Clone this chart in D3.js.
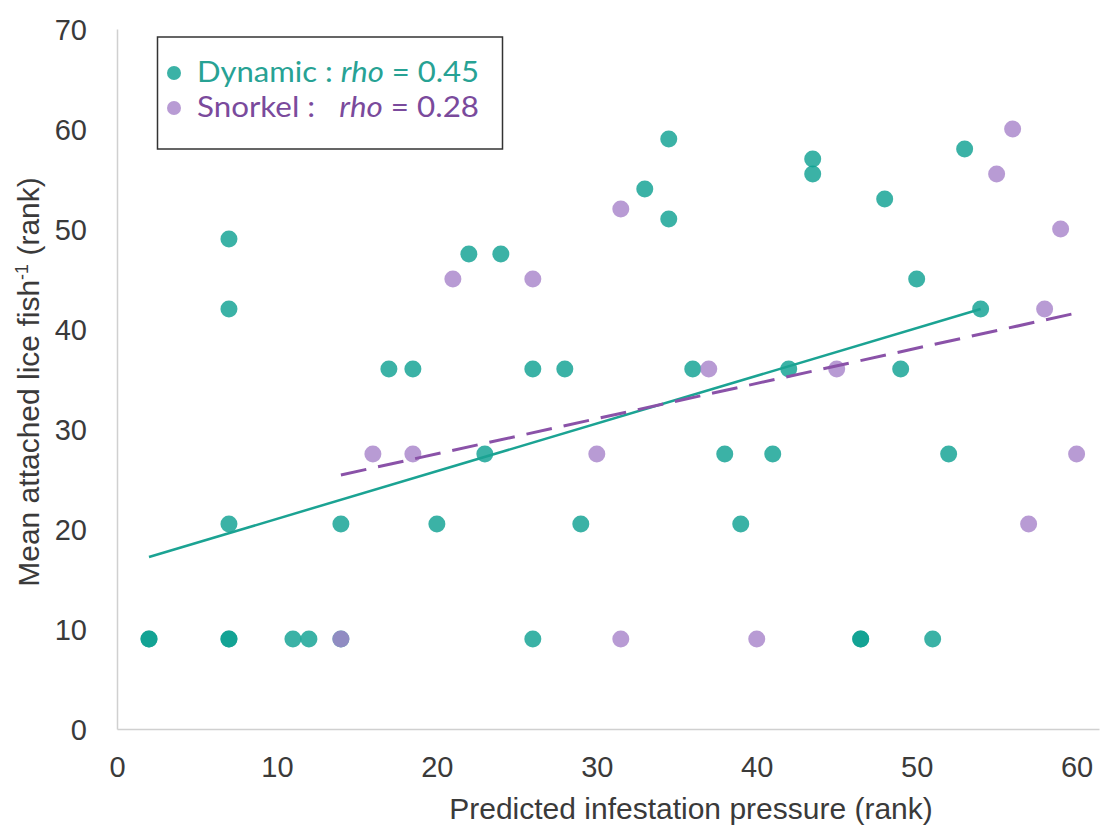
<!DOCTYPE html>
<html>
<head>
<meta charset='utf-8'>
<title>Lice vs infestation pressure</title>
<style>
  body { margin: 0; background: #fff; }
  svg { display: block; }
  .tick text { font-family: "Liberation Sans", Arial, sans-serif; font-size: 29px; fill: #3a3a3a; }
</style>
</head>
<body>
<script src='https://d3js.org/d3.v7.min.js'></script>
<div id="container"></div>
<script>
// data (ranks)
var dynamicX = [7, 7, 22, 24, 17, 18.5, 26, 28, 23, 34.5, 33, 34.5, 43.5, 43.5, 48, 53, 50, 54,
                36, 42, 49, 38, 41, 52, 7, 14, 20, 29, 39, 2, 2, 7, 7, 11, 12, 14, 26, 46.5, 46.5, 51];
var dynamicY = [49, 42, 47.5, 47.5, 36, 36, 36, 36, 27.5, 59, 54, 51, 57, 55.5, 53, 58, 45, 42,
                36, 36, 36, 27.5, 27.5, 27.5, 20.5, 20.5, 20.5, 20.5, 20.5, 9, 9, 9, 9, 9, 9, 9, 9, 9, 9, 9];
var snorkelX = [21, 26, 16, 18.5, 30, 31.5, 56, 55, 59, 58, 37, 45, 60, 57, 31.5, 40, 14];
var snorkelY = [45, 45, 27.5, 27.5, 27.5, 52, 60, 55.5, 50, 42, 36, 36, 27.5, 20.5, 9, 9, 9];

// trend line ends
var dynamicTrendX = [2, 54], dynamicTrendY = [17.2, 42];
var snorkelTrendX = [14, 60], snorkelTrendY = [25.4, 41.6];

var xTicks = [0, 10, 20, 30, 40, 50, 60];
var yTicks = [0, 10, 20, 30, 40, 50, 60, 70];

const width = 1111,
      height = 827;

var svg = d3.select("#container").append("svg")
    .attr("width", width)
    .attr("height", height)

var x = d3.scaleLinear()
    .domain([0, 61.4])
    .range([117, 1099])

var y = d3.scaleLinear()
    .domain([0, 70])
    .range([729, 29])

// axes
var xAxis = svg.append("g")
    .attr("transform", "translate(0," + y(0) + ")")
    .call(d3.axisBottom(x).tickValues(xTicks).tickSize(0).tickPadding(27));
xAxis.select(".domain").attr("stroke", "#d0d0d0").attr("stroke-width", 1.5);

var yAxis = svg.append("g")
    .attr("transform", "translate(" + x(0) + ",0)")
    .call(d3.axisLeft(y).tickValues(yTicks).tickSize(0).tickPadding(30));
yAxis.select(".domain").attr("stroke", "#d0d0d0").attr("stroke-width", 1.5);
yAxis.selectAll(".tick text").attr("dy", "0.36em");

// points
var teal = "#0a9f90", lilac = "#a682c9";
var dyn = d3.zip(dynamicX, dynamicY), snk = d3.zip(snorkelX, snorkelY);

svg.append("g").selectAll("circle")
    .data(dyn)
    .enter()
    .append("circle")
    .attr("cx", function(d) { return x(d[0]); })
    .attr("cy", function(d) { return y(d[1]); })
    .attr("r", 8.5)
    .style("fill", teal)
    .style("fill-opacity", 0.8)

svg.append("g").selectAll("circle")
    .data(snk)
    .enter()
    .append("circle")
    .attr("cx", function(d) { return x(d[0]); })
    .attr("cy", function(d) { return y(d[1]); })
    .attr("r", 8.5)
    .style("fill", lilac)
    .style("fill-opacity", 0.8)

// trend lines
var line = d3.line()
    .x(function(d) { return x(d[0]); })
    .y(function(d) { return y(d[1]); });

svg.append("path")
    .datum(d3.zip(dynamicTrendX, dynamicTrendY))
    .attr("d", line)
    .attr("fill", "none")
    .attr("stroke", "#1ba393")
    .attr("stroke-width", 2.5)

svg.append("path")
    .datum(d3.zip(snorkelTrendX, snorkelTrendY))
    .attr("d", line)
    .attr("fill", "none")
    .attr("stroke", "#8a52a8")
    .attr("stroke-width", 3)
    .attr("stroke-dasharray", "26,12")

// axis titles
svg.append("text")
    .attr("text-anchor", "middle")
    .attr("x", 691)
    .attr("y", 819)
    .style("font-family", "'Liberation Sans', Arial, sans-serif")
    .style("font-size", "30px")
    .style("fill", "#3a3a3a")
    .text("Predicted infestation pressure (rank)")

var yt = svg.append("text")
    .attr("text-anchor", "middle")
    .attr("transform", "translate(39,382)rotate(-90)")
    .style("font-family", "'Liberation Sans', Arial, sans-serif")
    .style("font-size", "30px")
    .style("fill", "#3a3a3a")
yt.append("tspan").text("Mean attached lice fish");
yt.append("tspan").attr("dy", -11).style("font-size", "18px").text("-1");
yt.append("tspan").attr("dy", 11).text(" (rank)");

// legend
svg.append("rect")
    .attr("x", 157.5)
    .attr("y", 37)
    .attr("width", 345)
    .attr("height", 112)
    .attr("fill", "#fff")
    .attr("stroke", "#333")
    .attr("stroke-width", 1.5)

var legendRows = [
  { label: "Dynamic : ", val: " = 0.45", dot: teal, text: "#27a294", cy: 73 },
  { label: "Snorkel :   ", val: " = 0.28", dot: lilac, text: "#7a4a9c", cy: 108 }
];
legendRows.forEach(function(r) {
  svg.append("circle")
      .attr("cx", 174).attr("cy", r.cy).attr("r", 7)
      .style("fill", r.dot).style("fill-opacity", 0.8);
  var t = svg.append("text")
      .attr("x", 197).attr("y", r.cy + 9)
      .attr("xml:space", "preserve")
      .attr("textLength", 282)
      .attr("lengthAdjust", "spacingAndGlyphs")
      .style("white-space", "pre")
      .style("font-family", "Lato, 'Open Sans', sans-serif")
      .style("font-size", "28px")
      .style("fill", r.text);
  t.append("tspan").text(r.label);
  t.append("tspan").style("font-style", "italic").text("rho");
  t.append("tspan").text(r.val);
});
</script>
</body>
</html>
